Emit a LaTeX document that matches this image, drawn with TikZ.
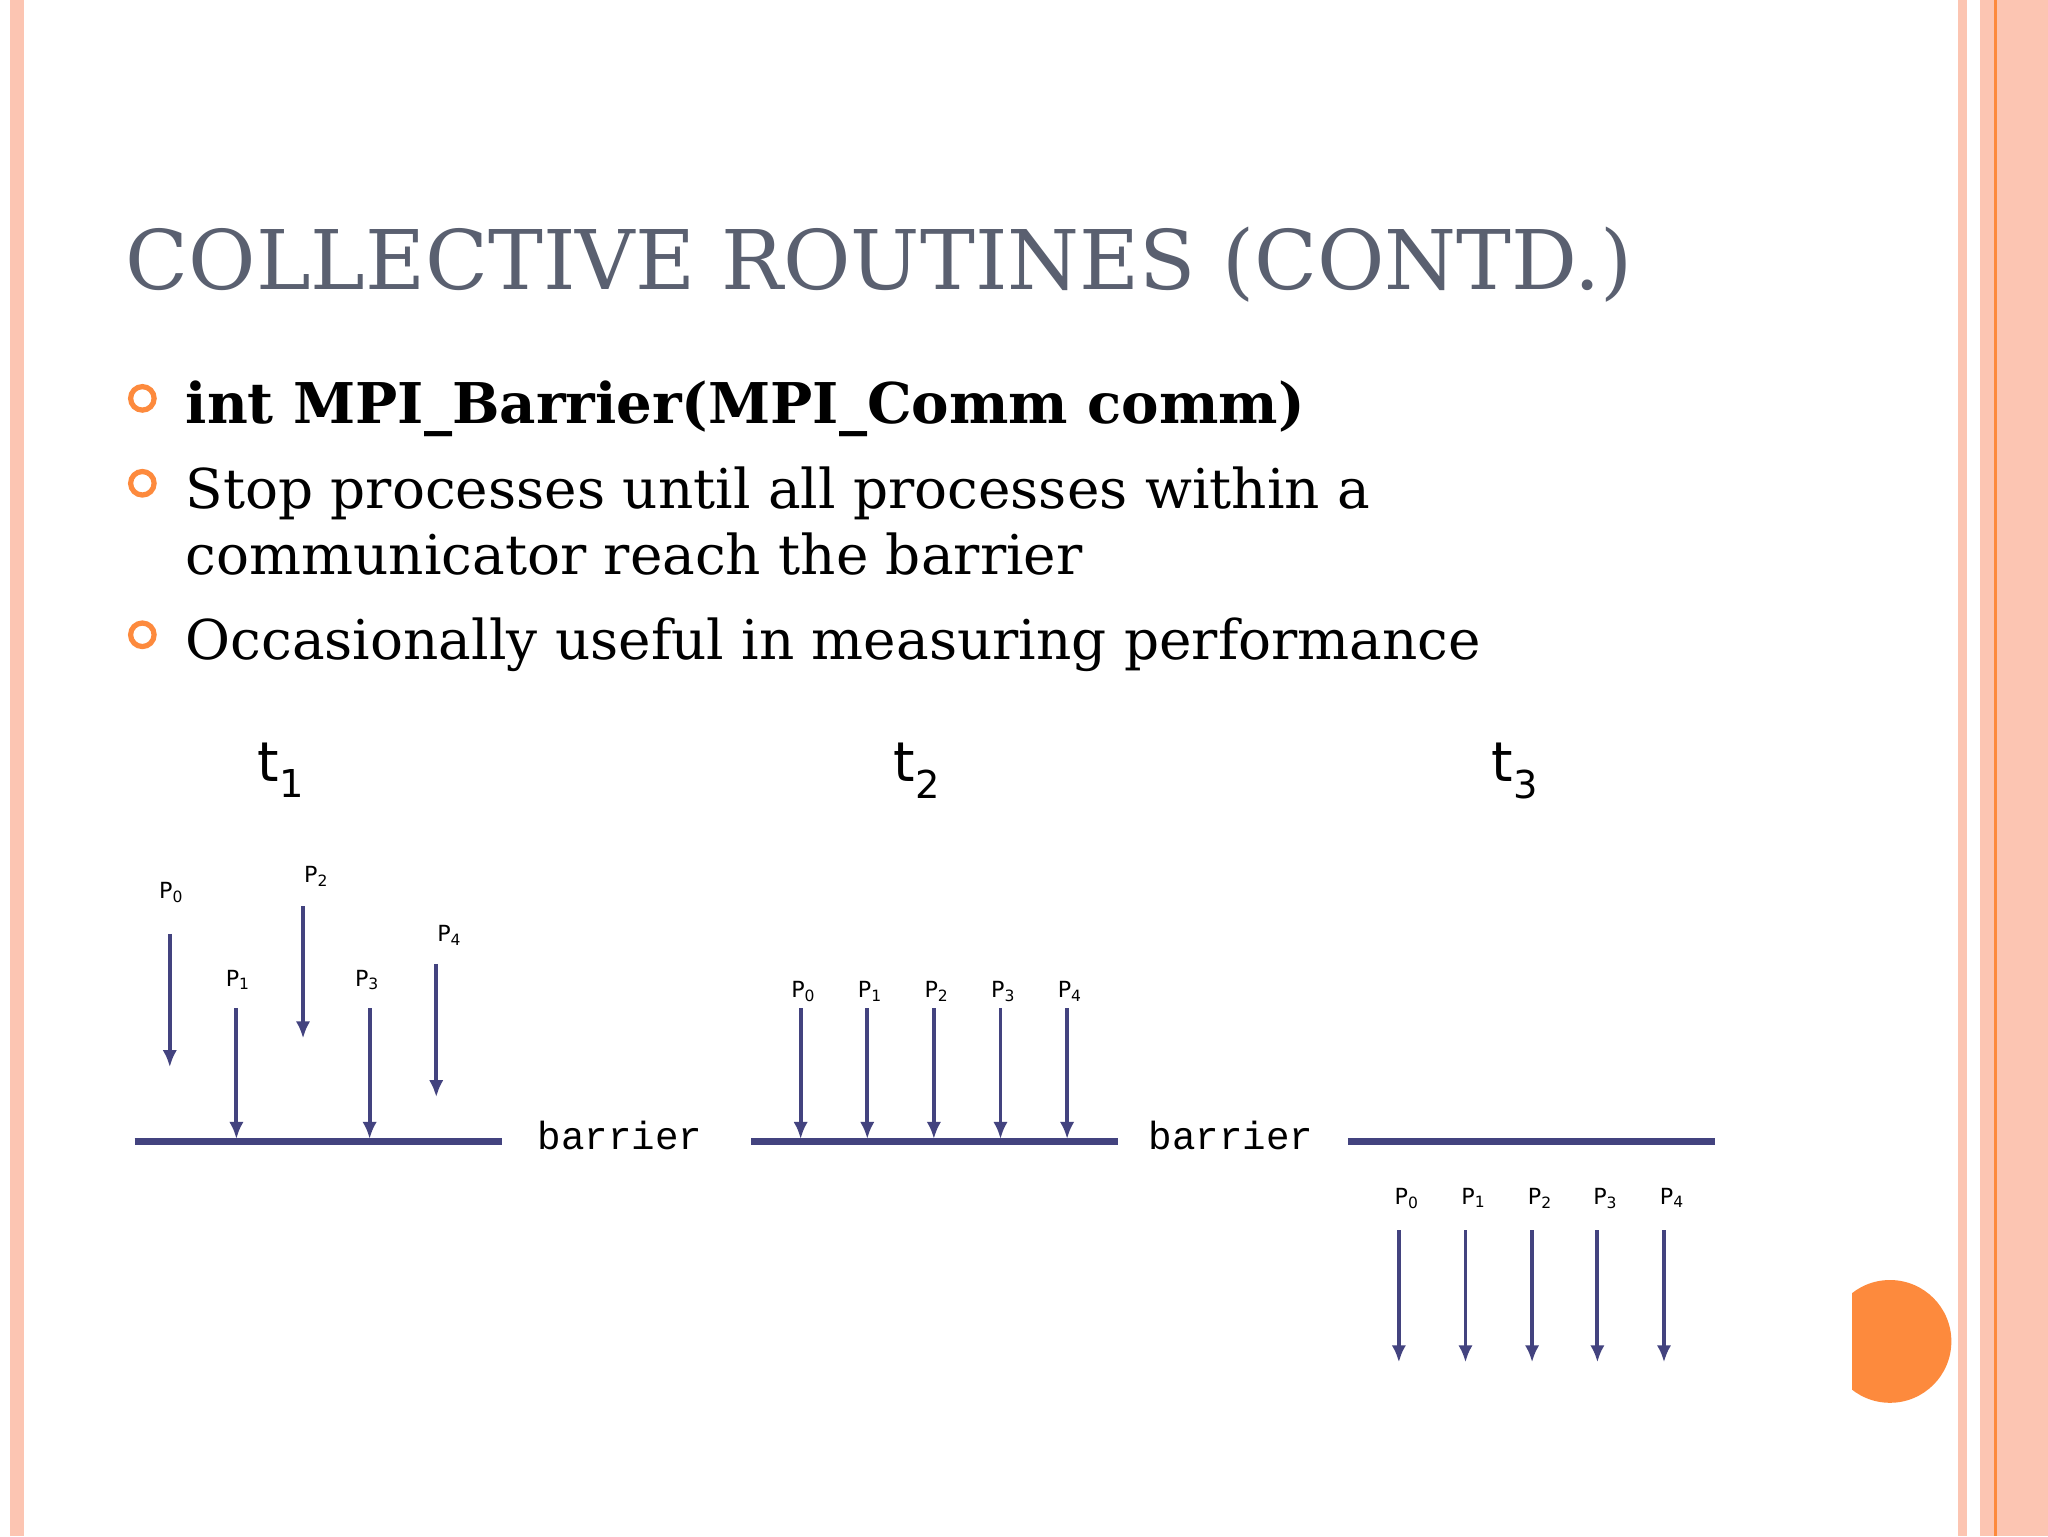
\documentclass[tikz,border=0pt]{standalone}
\usepackage{fontspec}
\usetikzlibrary{arrows.meta}
\setmainfont{DejaVu Serif}
\newfontfamily\psans{DejaVu Sans}
\newfontfamily\pmono{Liberation Mono}
\definecolor{navy}{HTML}{43437F}
\definecolor{pinkb}{HTML}{FCC5B2}
\definecolor{orng}{HTML}{FD8A3D}
\definecolor{ttl}{HTML}{5A6070}
\begin{document}
\begin{tikzpicture}[x=1pt,y=-1pt,
  arr/.style={draw=navy,line width=3pt,-{Latex[length=13pt,width=11pt]}},
  bar/.style={draw=navy,line width=5pt},
  plab/.style={font=\psans\fontsize{17}{17}\selectfont,anchor=base},
  tlab/.style={font=\psans\fontsize{42}{42}\selectfont,anchor=base},
  blab/.style={font=\pmono\fontsize{30}{30}\selectfont,anchor=base west},
  btext/.style={font=\fontsize{42}{42}\selectfont,anchor=base west,inner sep=0},
  bul/.style={draw=orng,line width=4pt,circle,minimum size=18pt,inner sep=0}]
\fill[white] (0,0) rectangle (1568,1176);
\useasboundingbox (0,0) rectangle (1568,1176);
\fill[pinkb] (8,0) rectangle (18,1176);
\fill[pinkb] (1499,0) rectangle (1506,1176);
\fill[pinkb] (1516,0) rectangle (1568,1176);
\fill[orng] (1527,0) rectangle (1529,1176);
\begin{scope}
\clip (1418,900) rectangle (1510,1120);
\fill[orng] (1447,1027) circle (47);
\end{scope}
\node[anchor=base west,inner sep=0,text=ttl,font=\fontsize{63}{63}\selectfont] (title) at (96,222) {COLLECTIVE ROUTINES (CONTD.)};
\node[bul] (b1) at (109,305) {};
\node[bul] (b2) at (109,370) {};
\node[bul] (b3) at (109,486) {};
\node[btext,font=\fontsize{43}{43}\selectfont] (l1) at (142,324) {\bfseries int MPI\_Barrier(MPI\_Comm comm)};
\node[btext] (l2) at (142,389) {Stop processes until all processes within a};
\node[btext] (l3) at (142,440) {communicator reach the barrier};
\node[btext] (l4) at (142,505) {Occasionally useful in measuring performance};
\node[tlab] (t1) at (215,598) {t\textsubscript{1}};
\node[tlab] (t2) at (702,598) {t\textsubscript{2}};
\node[tlab] (t3) at (1160,598) {t\textsubscript{3}};
% set 1
\coordinate (ba1) at (103,874); \coordinate (bb1) at (384,874);
\draw[bar] (ba1) -- (bb1);
\node[blab] (bl1) at (408,880) {barrier};
\foreach \i/\x/\ys/\ye/\lx/\ly in {0/130/715/817/131/688,1/181/772/872/182/755,2/232/694/795/242/676,3/283/772/872/281/755,4/334/738/840/344/721}{
  \coordinate (s1\i) at (\x,\ys); \coordinate (e1\i) at (\x,\ye);
  \draw[arr] (s1\i) -- (e1\i);
  \node[plab] (p1\i) at (\lx,\ly) {P\textsubscript{\i}};
}
% set 2
\coordinate (ba2) at (575,874); \coordinate (bb2) at (856,874);
\draw[bar] (ba2) -- (bb2);
\node[blab] (bl2) at (876,880) {barrier};
\foreach \i/\x in {0/613,1/664,2/715,3/766,4/817}{
  \coordinate (s2\i) at (\x,772); \coordinate (e2\i) at (\x,872);
  \draw[arr] (s2\i) -- (e2\i);
  \node[plab] (p2\i) at (\x+2,764) {P\textsubscript{\i}};
}
% set 3
\coordinate (ba3) at (1032,874); \coordinate (bb3) at (1313,874);
\draw[bar] (ba3) -- (bb3);
\foreach \i/\x in {0/1071,1/1122,2/1173,3/1223,4/1274}{
  \coordinate (s3\i) at (\x,942); \coordinate (e3\i) at (\x,1043);
  \draw[arr] (s3\i) -- (e3\i);
  \node[plab] (p3\i) at (\x+6,922) {P\textsubscript{\i}};
}
\end{tikzpicture}
\end{document}
